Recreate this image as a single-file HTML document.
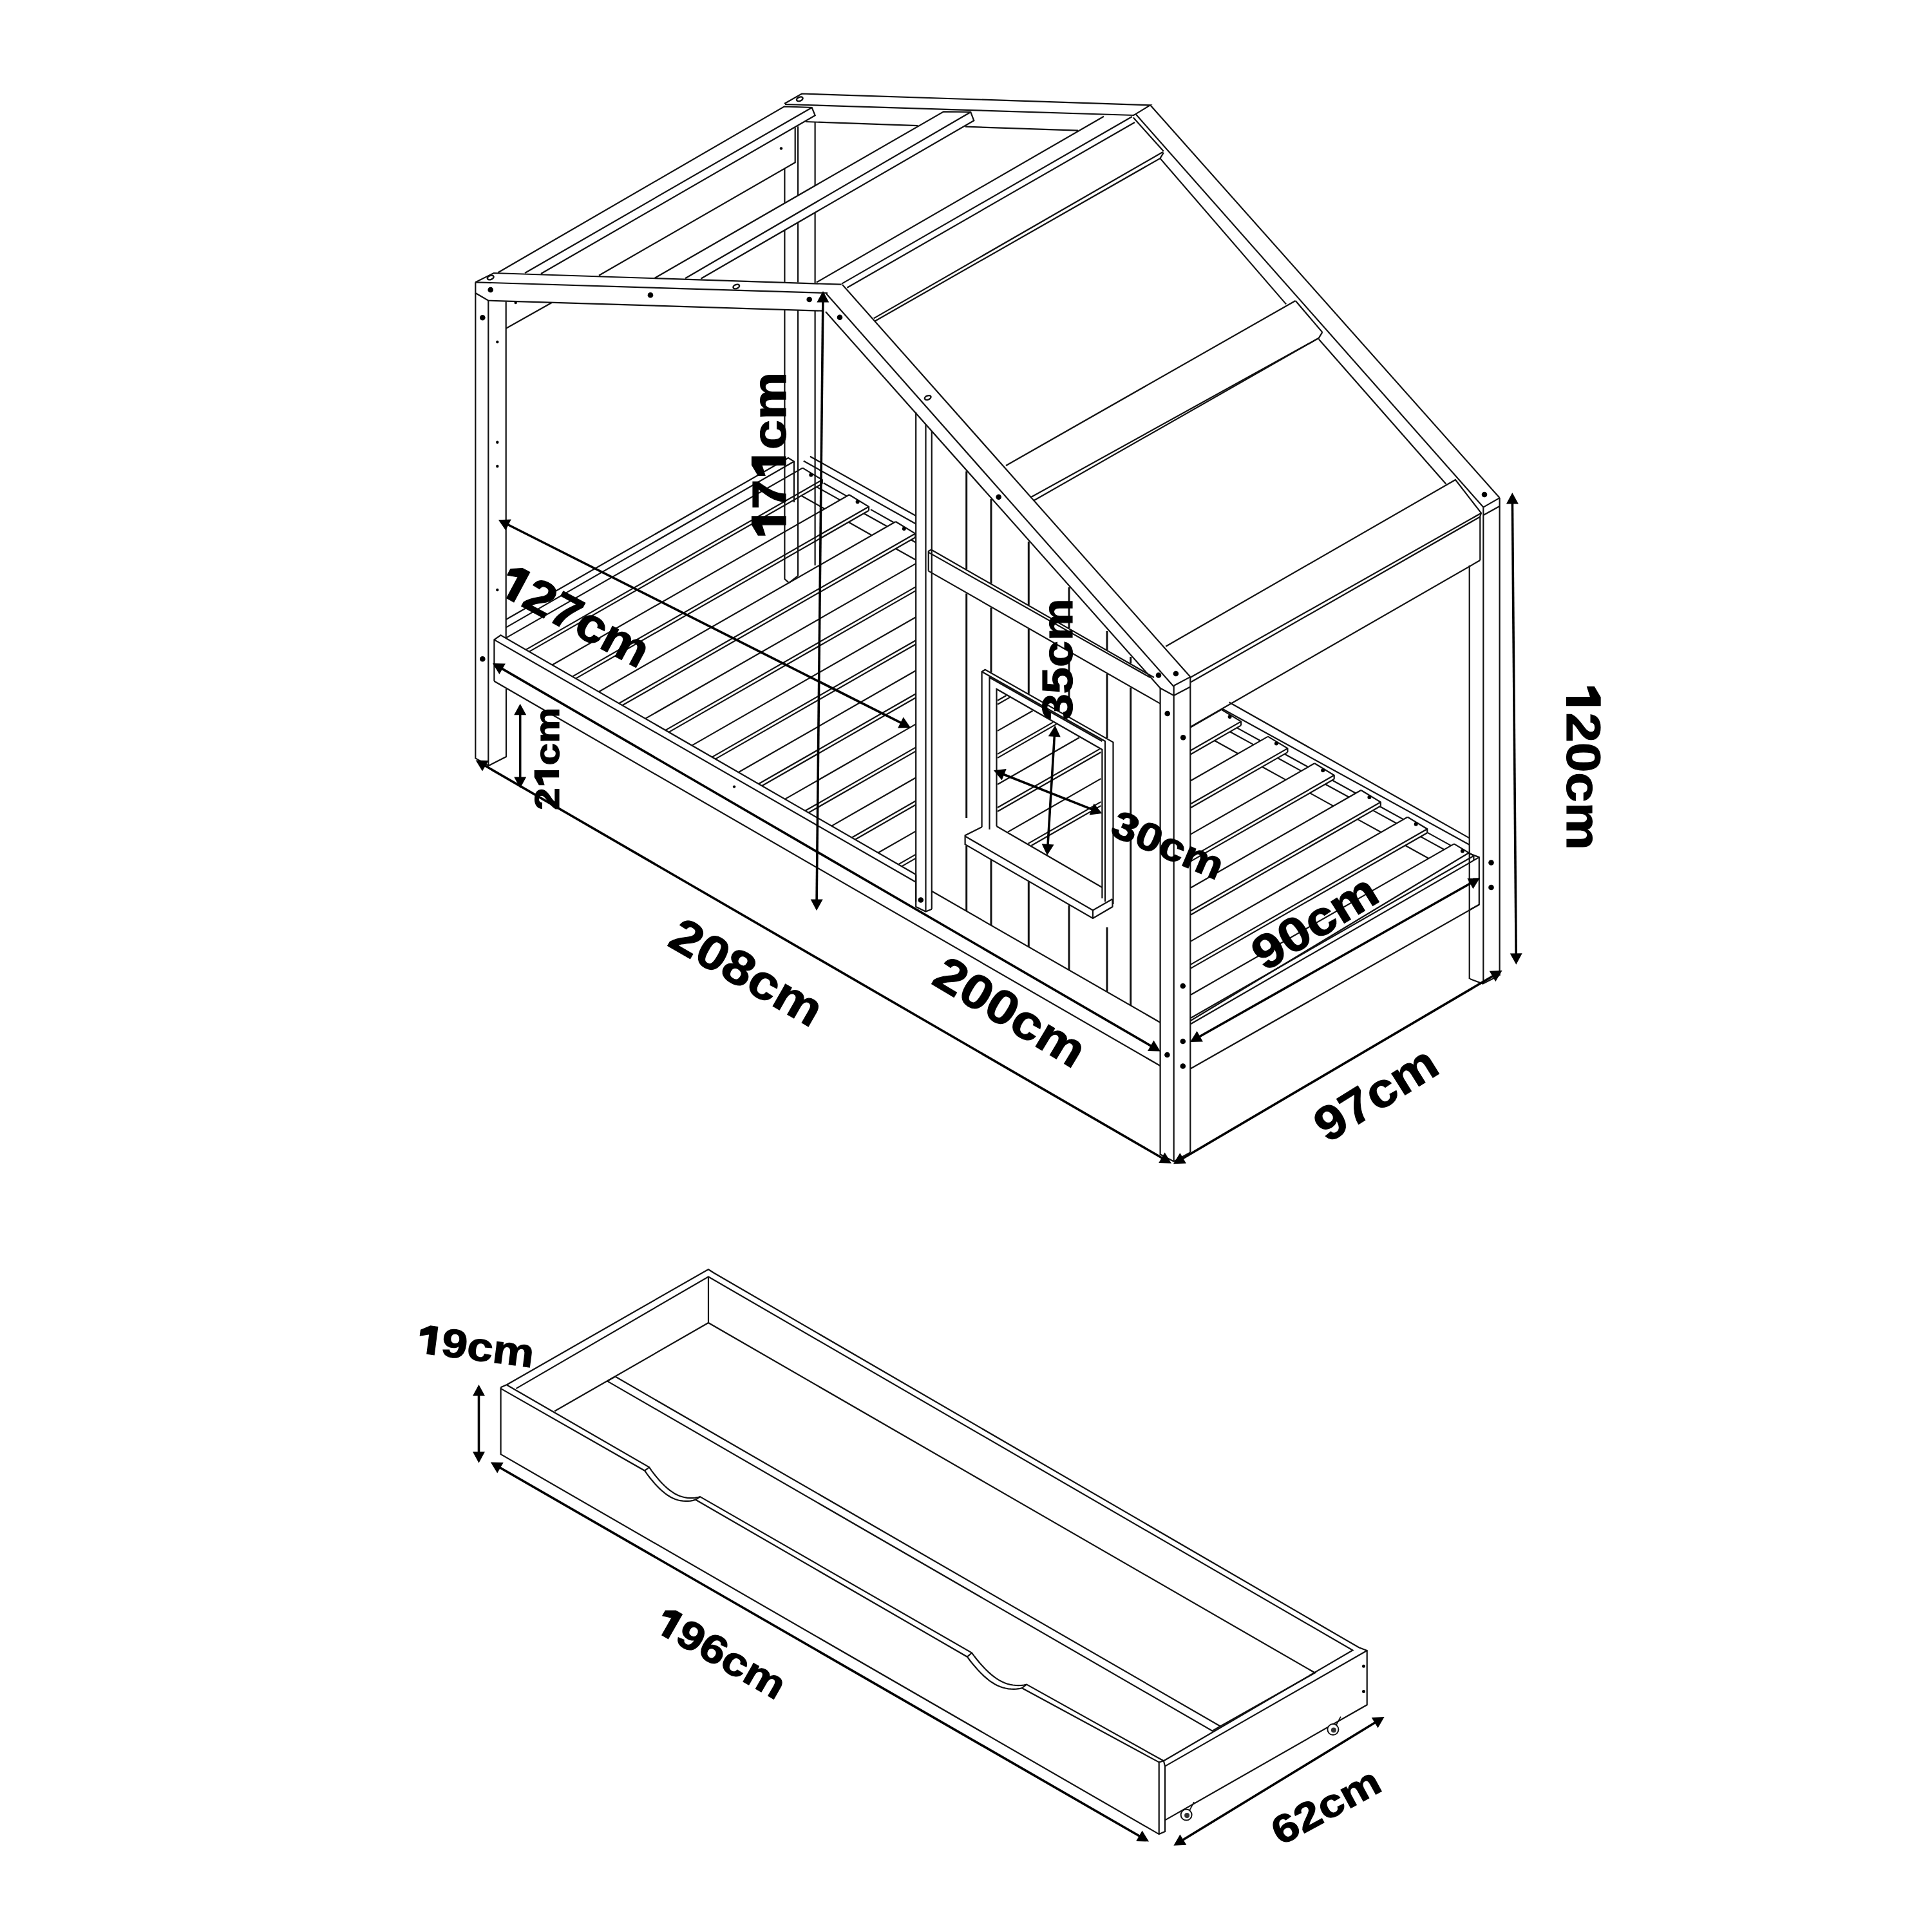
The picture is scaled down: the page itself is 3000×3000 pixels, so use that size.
<!DOCTYPE html>
<html><head><meta charset="utf-8"><style>
html,body{margin:0;padding:0;background:#fff;}
svg{display:block;}
text{font-family:"Liberation Sans",sans-serif;font-weight:bold;}
</style></head><body>
<svg width="3000" height="3000" viewBox="0 0 3000 3000" xmlns="http://www.w3.org/2000/svg">
<rect width="3000" height="3000" fill="#fff"/>
<g fill="none" stroke="#111" stroke-linejoin="miter" stroke-linecap="butt">
<polyline points="738.3,438.3 766.7,424.0 1306.7,441.7" stroke-width="2.2"/>
<polyline points="738.3,438.3 1285.0,455.0" stroke-width="2.2"/>
<polyline points="738.3,438.3 738.3,455.0 758.3,466.7 1276.7,482.7" stroke-width="2.2"/>
<polyline points="773.3,423.3 1218.0,165.3 1260.7,167.0 1265.7,179.3 840.0,425.0" stroke-width="2.2"/>
<polyline points="815.0,424.0 1260.7,167.0" stroke-width="2.2"/>
<polyline points="1234.7,198.3 1234.7,252.3 930.0,427.7" stroke-width="2.2"/>
<polyline points="785.7,510.0 856.7,470.0" stroke-width="2.2"/>
<polyline points="1218.0,161.0 1245.0,145.5 1786.0,163.3 1763.4,177.1 1760.0,179.0" stroke-width="2.2"/>
<polyline points="1219.0,162.0 1761.0,179.0" stroke-width="2.2"/>
<polyline points="1251.1,189.0 1425.0,195.2" stroke-width="2.2"/>
<polyline points="1499.0,196.7 1674.0,202.7" stroke-width="2.2"/>
<polyline points="1218.4,262.5 1218.4,315.5" stroke-width="2.2"/>
<polyline points="1218.4,358.0 1218.4,437.9" stroke-width="2.2"/>
<polyline points="1239.1,196.3 1239.1,303.6" stroke-width="2.2"/>
<polyline points="1239.1,346.2 1239.1,438.5" stroke-width="2.2"/>
<polyline points="1265.6,190.0 1265.6,288.4" stroke-width="2.2"/>
<polyline points="1265.6,331.0 1265.6,439.3" stroke-width="2.2"/>
<polyline points="1016.7,431.7 1465.3,173.3 1507.3,174.0 1512.3,187.3 1088.3,432.7" stroke-width="2.2"/>
<polyline points="1064.0,432.3 1507.3,174.0" stroke-width="2.2"/>
<polyline points="1267.7,438.5 1714.0,180.7" stroke-width="2.2"/>
<polyline points="1307.0,440.6 1758.0,181.0" stroke-width="2.2"/>
<polyline points="1315.3,446.8 1762.0,190.0" stroke-width="2.2"/>
<polyline points="1356.7,494.4 1805.7,236.0" stroke-width="2.2"/>
<polyline points="1358.8,498.5 1801.4,245.9 1806.9,236.9" stroke-width="2.2"/>
<polyline points="1759.8,182.5 1806.9,235.1" stroke-width="2.2"/>
<polyline points="1801.4,245.9 1997.1,472.4" stroke-width="2.2"/>
<polyline points="1562.0,723.0 2011.6,467.0" stroke-width="2.2"/>
<polyline points="1600.0,772.5 2047.8,524.9 2053.3,515.9" stroke-width="2.2"/>
<polyline points="2011.6,467.0 2053.3,515.9" stroke-width="2.2"/>
<polyline points="2047.8,526.7 2245.3,751.4" stroke-width="2.2"/>
<polyline points="1786.2,163.3 2328.6,773.1" stroke-width="2.2"/>
<polyline points="1763.4,177.1 2303.3,787.6" stroke-width="2.2"/>
<polyline points="2328.6,773.1 2303.3,787.6" stroke-width="2.2"/>
<polyline points="1308.0,442.0 1848.3,1051.1" stroke-width="2.2"/>
<polyline points="1283.0,456.0 1822.5,1066.0" stroke-width="2.2"/>
<polyline points="1282.0,484.0 1801.6,1068.5" stroke-width="2.2"/>
<polyline points="1801.6,1068.5 1822.7,1080.0 1848.3,1066.5" stroke-width="2.2"/>
<polyline points="1822.7,1064.8 1848.3,1051.1" stroke-width="2.2"/>
<polyline points="1801.6,1068.5 1801.6,1792.5 1822.7,1803.4 1848.3,1789.4" stroke-width="2.2"/>
<polyline points="1822.7,1064.8 1822.7,1803.4" stroke-width="2.2"/>
<polyline points="1848.3,1051.1 1848.3,1789.4" stroke-width="2.2"/>
<polyline points="1422.2,640.3 1422.2,1400.0" stroke-width="2.2"/>
<polyline points="1437.5,659.0 1437.5,1415.6" stroke-width="2.2"/>
<polyline points="1446.8,669.8 1446.8,1411.7" stroke-width="2.2"/>
<polyline points="1810.2,1003.8 2260.0,745.0 2300.0,796.7 2298.3,801.7 2298.3,870.0" stroke-width="2.2"/>
<polyline points="1848.3,1052.0 2300.0,796.7" stroke-width="2.2"/>
<polyline points="1849.5,1059.0 2298.3,802.5" stroke-width="2.2"/>
<polyline points="1849.0,1128.5 2298.3,870.0" stroke-width="2.2"/>
<polyline points="1605.7,777.0 2047.8,524.9" stroke-width="2.2"/>
<polyline points="2328.6,773.1 2328.6,1515.0" stroke-width="2.2"/>
<polyline points="2303.3,787.6 2303.3,1527.5" stroke-width="2.2"/>
<polyline points="2281.7,878.0 2281.7,1520.0" stroke-width="2.2"/>
<polyline points="2282.5,1520.0 2302.5,1527.5 2327.5,1515.0" stroke-width="2.2"/>
<polyline points="2303.3,800.0 2328.6,786.0" stroke-width="2.2"/>
<polyline points="738.3,455.0 738.3,1177.4 758.8,1189.0 786.0,1175.0 786.0,1069.5" stroke-width="2.2"/>
<polyline points="758.3,466.7 758.3,1189.0" stroke-width="2.2"/>
<polyline points="785.7,468.3 785.7,990.0" stroke-width="2.2"/>
<polyline points="767.4,1057.8 767.4,993.4 777.5,986.4 1422.2,1358.0" stroke-width="2.2"/>
<polyline points="767.4,993.4 1422.2,1369.7" stroke-width="2.2"/>
<polyline points="1446.8,1383.8 1801.6,1587.7" stroke-width="2.2"/>
<polyline points="767.4,1057.8 1801.6,1655.0" stroke-width="2.2"/>
<polyline points="1422.2,1358.0 1422.2,1408.0 1437.5,1415.6 1446.8,1411.7" stroke-width="2.2"/>
<polyline points="1441.7,886.6 1441.7,856.0 1446.0,853.5 1792.0,1052.0" stroke-width="2.2"/>
<polyline points="1441.7,857.6 1786.0,1052.0" stroke-width="2.2"/>
<polyline points="1441.7,886.6 1801.6,1092.6" stroke-width="2.2"/>
<polyline points="1524.6,1284.0 1524.6,1043.0 1529.7,1039.8 1728.5,1152.6 1728.5,1404.0" stroke-width="2.2"/>
<polyline points="1524.6,1043.0 1716.0,1151.0 1716.0,1400.0" stroke-width="2.2"/>
<polyline points="1536.5,1288.0 1536.5,1052.0 1711.4,1151.0" stroke-width="2.2"/>
<polyline points="1547.5,1283.0 1547.5,1070.0 1711.4,1164.0 1711.4,1395.0" stroke-width="2.2"/>
<polyline points="1547.5,1283.0 1711.4,1378.0" stroke-width="2.2"/>
<polyline points="1525.0,1284.0 1498.6,1297.2 1498.6,1311.2 1697.0,1426.0 1727.5,1408.0 1727.5,1396.0" stroke-width="2.2"/>
<polyline points="1498.6,1298.5 1697.0,1413.5 1727.5,1396.0" stroke-width="2.2"/>
<polyline points="1697.0,1413.5 1697.0,1426.0" stroke-width="2.2"/>
<polyline points="1257.9,708.7 1422.2,801.0" stroke-width="2.2"/>
<polyline points="1247.8,715.7 1422.2,813.5" stroke-width="2.2"/>
<polyline points="1908.6,1090.5 2281.7,1301.4" stroke-width="2.2"/>
<polyline points="1898.2,1100.8 2281.7,1311.7" stroke-width="2.2"/>
<polyline points="1849.0,1584.8 2280.0,1324.7 2296.8,1331.1 2296.8,1404.7 2281.7,1413.0" stroke-width="2.2"/>
<polyline points="1849.0,1590.0 2296.8,1331.1" stroke-width="2.2"/>
<polyline points="1849.0,1659.3 2296.8,1404.7" stroke-width="2.2"/>
<circle cx="761.7" cy="450.0" r="4.3" fill="#000" stroke="none"/>
<circle cx="1010.0" cy="458.3" r="4.3" fill="#000" stroke="none"/>
<circle cx="1256.7" cy="465.0" r="4.3" fill="#000" stroke="none"/>
<circle cx="749.3" cy="493.3" r="4.3" fill="#000" stroke="none"/>
<circle cx="1304.0" cy="492.8" r="4.3" fill="#000" stroke="none"/>
<circle cx="1550.7" cy="771.7" r="4.3" fill="#000" stroke="none"/>
<circle cx="1799.0" cy="1048.5" r="4.3" fill="#000" stroke="none"/>
<circle cx="1825.9" cy="1046.0" r="4.3" fill="#000" stroke="none"/>
<circle cx="1812.7" cy="1108.0" r="4.3" fill="#000" stroke="none"/>
<circle cx="1837.2" cy="1145.3" r="4.3" fill="#000" stroke="none"/>
<circle cx="2305.0" cy="768.0" r="4.3" fill="#000" stroke="none"/>
<circle cx="1836.8" cy="1531.0" r="4.3" fill="#000" stroke="none"/>
<circle cx="1836.8" cy="1617.0" r="4.3" fill="#000" stroke="none"/>
<circle cx="1812.4" cy="1638.0" r="4.3" fill="#000" stroke="none"/>
<circle cx="1836.8" cy="1655.5" r="4.3" fill="#000" stroke="none"/>
<circle cx="2315.5" cy="1339.5" r="4.3" fill="#000" stroke="none"/>
<circle cx="2315.5" cy="1378.0" r="4.3" fill="#000" stroke="none"/>
<circle cx="749.3" cy="1023.3" r="4.3" fill="#000" stroke="none"/>
<circle cx="1429.8" cy="1397.5" r="4.3" fill="#000" stroke="none"/>
<circle cx="800.7" cy="470.0" r="2.2" fill="#000" stroke="none"/>
<circle cx="772.3" cy="531.0" r="2.2" fill="#000" stroke="none"/>
<circle cx="772.3" cy="686.7" r="2.2" fill="#000" stroke="none"/>
<circle cx="1213.0" cy="230.5" r="2.2" fill="#000" stroke="none"/>
<circle cx="772.3" cy="724.0" r="2.2" fill="#000" stroke="none"/>
<circle cx="772.3" cy="916.0" r="2.2" fill="#000" stroke="none"/>
<circle cx="1140.1" cy="1221.6" r="2.2" fill="#000" stroke="none"/>
<ellipse cx="1143.3" cy="445.0" rx="5" ry="3" stroke-width="2.5" transform="rotate(-20 1143.3 445.0)"/>
<ellipse cx="761.7" cy="431.0" rx="5" ry="3" stroke-width="2.5" transform="rotate(-20 761.7 431.0)"/>
<ellipse cx="1241.8" cy="153.8" rx="5" ry="3" stroke-width="2.5" transform="rotate(-20 1241.8 153.8)"/>
<ellipse cx="1440.7" cy="617.5" rx="5" ry="3" stroke-width="2.5" transform="rotate(-20 1440.7 617.5)"/>
<polyline points="785.7,962.0 1224.0,711.0 1233.0,716.5 1233.0,780.0" stroke-width="2.2"/>
<polyline points="785.7,974.4 1233.0,716.5" stroke-width="2.2"/>
<polyline points="1246.3,726.6 1276.8,745.1 1276.8,751.1" stroke-width="2.2"/>
<circle cx="1259.3" cy="737.6" r="3" fill="#000" stroke="none"/>
<polyline points="1318.6,768.3 1349.1,786.8 1349.1,792.8" stroke-width="2.2"/>
<circle cx="1331.6" cy="779.3" r="3" fill="#000" stroke="none"/>
<polyline points="1390.8,810.0 1421.3,828.5 1421.3,834.5" stroke-width="2.2"/>
<circle cx="1403.8" cy="821.0" r="3" fill="#000" stroke="none"/>
<polyline points="1896.6,1101.9 1927.1,1120.4 1927.1,1126.4" stroke-width="2.2"/>
<circle cx="1909.6" cy="1112.9" r="3" fill="#000" stroke="none"/>
<polyline points="1968.9,1143.6 1999.4,1162.1 1999.4,1168.1" stroke-width="2.2"/>
<circle cx="1981.9" cy="1154.6" r="3" fill="#000" stroke="none"/>
<polyline points="2041.2,1185.3 2071.7,1203.8 2071.7,1209.8" stroke-width="2.2"/>
<circle cx="2054.2" cy="1196.3" r="3" fill="#000" stroke="none"/>
<polyline points="2113.4,1227.0 2143.9,1245.5 2143.9,1251.5" stroke-width="2.2"/>
<circle cx="2126.4" cy="1238.0" r="3" fill="#000" stroke="none"/>
<polyline points="2185.7,1268.7 2216.2,1287.2 2216.2,1293.2" stroke-width="2.2"/>
<circle cx="2198.7" cy="1279.7" r="3" fill="#000" stroke="none"/>
<polyline points="2257.9,1310.4 2288.4,1328.9 2288.4,1334.9" stroke-width="2.2"/>
<circle cx="2270.9" cy="1321.4" r="3" fill="#000" stroke="none"/>
<polyline points="786.0,990.4 1246.3,726.6" stroke-width="2.2"/>
<polyline points="816.5,1008.9 1276.8,745.1" stroke-width="2.2"/>
<polyline points="821.7,1011.9 1276.8,751.1" stroke-width="2.2"/>
<polyline points="857.5,1032.5 1318.6,768.3" stroke-width="2.2"/>
<polyline points="888.7,1050.6 1349.1,786.8" stroke-width="2.2"/>
<polyline points="894.0,1053.6 1349.1,792.8" stroke-width="2.2"/>
<polyline points="929.7,1074.2 1390.8,810.0" stroke-width="2.2"/>
<polyline points="961.0,1092.2 1421.3,828.5" stroke-width="2.2"/>
<polyline points="966.3,1095.3 1421.3,834.5" stroke-width="2.2"/>
<polyline points="1002.0,1115.9 1422.2,875.1" stroke-width="2.2"/>
<polyline points="1033.3,1133.9 1422.2,911.1" stroke-width="2.2"/>
<polyline points="1038.5,1136.9 1422.2,917.1" stroke-width="2.2"/>
<polyline points="1074.3,1157.6 1422.2,958.2" stroke-width="2.2"/>
<polyline points="1105.6,1175.6 1422.2,994.2" stroke-width="2.2"/>
<polyline points="1110.8,1178.6 1422.2,1000.2" stroke-width="2.2"/>
<polyline points="1146.6,1199.3 1422.2,1041.3" stroke-width="2.2"/>
<polyline points="1177.9,1217.3 1422.2,1077.3" stroke-width="2.2"/>
<polyline points="1183.1,1220.3 1422.2,1083.3" stroke-width="2.2"/>
<polyline points="1218.9,1240.9 1422.2,1124.4" stroke-width="2.2"/>
<polyline points="1250.2,1259.0 1422.2,1160.4" stroke-width="2.2"/>
<polyline points="1255.4,1262.0 1422.2,1166.4" stroke-width="2.2"/>
<polyline points="1291.2,1282.6 1422.2,1207.5" stroke-width="2.2"/>
<polyline points="1322.5,1300.7 1422.2,1243.5" stroke-width="2.2"/>
<polyline points="1327.7,1303.7 1422.2,1249.5" stroke-width="2.2"/>
<polyline points="1363.4,1324.3 1422.2,1290.6" stroke-width="2.2"/>
<polyline points="1394.7,1342.4 1422.2,1326.6" stroke-width="2.2"/>
<polyline points="1400.0,1345.4 1422.2,1332.6" stroke-width="2.2"/>
<polyline points="1849.0,1129.2 1896.6,1101.9" stroke-width="2.2"/>
<polyline points="1849.0,1165.2 1927.1,1120.4" stroke-width="2.2"/>
<polyline points="1849.0,1171.2 1927.1,1126.4" stroke-width="2.2"/>
<polyline points="1849.0,1212.3 1968.9,1143.6" stroke-width="2.2"/>
<polyline points="1849.0,1248.3 1999.4,1162.1" stroke-width="2.2"/>
<polyline points="1849.0,1254.3 1999.4,1168.1" stroke-width="2.2"/>
<polyline points="1849.0,1295.4 2041.2,1185.3" stroke-width="2.2"/>
<polyline points="1849.0,1331.4 2071.7,1203.8" stroke-width="2.2"/>
<polyline points="1849.0,1337.4 2071.7,1209.8" stroke-width="2.2"/>
<polyline points="1849.0,1378.5 2113.4,1227.0" stroke-width="2.2"/>
<polyline points="1849.0,1414.5 2143.9,1245.5" stroke-width="2.2"/>
<polyline points="1849.0,1420.5 2143.9,1251.5" stroke-width="2.2"/>
<polyline points="1849.0,1461.6 2185.7,1268.7" stroke-width="2.2"/>
<polyline points="1849.0,1497.6 2216.2,1287.2" stroke-width="2.2"/>
<polyline points="1849.0,1503.6 2216.2,1293.2" stroke-width="2.2"/>
<polyline points="1849.0,1544.7 2257.9,1310.4" stroke-width="2.2"/>
<polyline points="1849.0,1580.7 2288.4,1328.9" stroke-width="2.2"/>
<polyline points="1500.7,732.0 1500.7,883.9" stroke-width="3"/>
<polyline points="1500.7,921.4 1500.7,1270.1" stroke-width="3"/>
<polyline points="1500.7,1313.4 1500.7,1415.0" stroke-width="3"/>
<polyline points="1539.0,775.0 1539.0,905.8" stroke-width="3"/>
<polyline points="1539.0,943.4 1539.0,1044.1" stroke-width="3"/>
<polyline points="1539.0,1335.6 1539.0,1437.1" stroke-width="3"/>
<polyline points="1597.3,841.0 1597.3,939.3" stroke-width="3"/>
<polyline points="1597.3,976.8 1597.3,1077.2" stroke-width="3"/>
<polyline points="1597.3,1369.4 1597.3,1470.6" stroke-width="3"/>
<polyline points="1660.0,912.0 1660.0,975.2" stroke-width="3"/>
<polyline points="1660.0,1012.8 1660.0,1112.7" stroke-width="3"/>
<polyline points="1660.0,1405.8 1660.0,1506.6" stroke-width="3"/>
<polyline points="1719.0,980.0 1719.0,1009.1" stroke-width="3"/>
<polyline points="1719.0,1046.6 1719.0,1146.2" stroke-width="3"/>
<polyline points="1719.0,1440.0 1719.0,1540.6" stroke-width="3"/>
<polyline points="1755.7,1020.0 1755.7,1030.1" stroke-width="3"/>
<polyline points="1755.7,1067.6 1755.7,1561.7" stroke-width="3"/>
<polyline points="1218.4,482.0 1218.4,899.0 1225.0,905.0 1239.1,894.0" stroke-width="2.2"/>
<polyline points="1239.1,482.0 1239.1,894.0" stroke-width="2.2"/>
<polyline points="1265.6,482.0 1265.6,878.0" stroke-width="2.2"/>
<polyline points="1549.0,1087.8 1562.5,1080.0" stroke-width="2.2"/>
<polyline points="1549.0,1093.8 1568.0,1082.9" stroke-width="2.2"/>
<polyline points="1549.0,1134.9 1603.5,1103.7" stroke-width="2.2"/>
<polyline points="1549.0,1170.9 1635.0,1121.6" stroke-width="2.2"/>
<polyline points="1549.0,1176.9 1640.5,1124.4" stroke-width="2.2"/>
<polyline points="1549.0,1218.0 1676.0,1145.2" stroke-width="2.2"/>
<polyline points="1549.0,1254.0 1707.5,1163.1" stroke-width="2.2"/>
<polyline points="1549.0,1260.0 1709.5,1168.0" stroke-width="2.2"/>
<polyline points="1565.0,1291.9 1709.5,1209.1" stroke-width="2.2"/>
<polyline points="1596.5,1309.9 1709.5,1245.1" stroke-width="2.2"/>
<polyline points="1601.5,1313.0 1709.5,1251.1" stroke-width="2.2"/>
<polyline points="1278.7,750.0 1314.9,770.4" stroke-width="2.2"/>
<polyline points="1268.1,756.1 1304.4,776.4" stroke-width="2.2"/>
<polyline points="1244.3,769.7 1280.6,790.1" stroke-width="2.2"/>
<polyline points="1352.0,791.1 1388.2,811.5" stroke-width="2.2"/>
<polyline points="1341.4,797.2 1377.7,817.5" stroke-width="2.2"/>
<polyline points="1317.6,810.8 1353.8,831.2" stroke-width="2.2"/>
<polyline points="1414.7,838.3 1422.2,842.5" stroke-width="2.2"/>
<polyline points="1390.9,852.0 1422.2,869.5" stroke-width="2.2"/>
<polyline points="1920.6,1130.1 1957.2,1150.3" stroke-width="2.2"/>
<polyline points="1909.9,1136.3 1946.6,1156.4" stroke-width="2.2"/>
<polyline points="1885.9,1150.0 1922.5,1170.2" stroke-width="2.2"/>
<polyline points="1994.6,1170.8 2031.3,1191.0" stroke-width="2.2"/>
<polyline points="1983.9,1177.0 2020.6,1197.1" stroke-width="2.2"/>
<polyline points="1959.9,1190.7 1996.5,1210.9" stroke-width="2.2"/>
<polyline points="2068.6,1211.5 2105.3,1231.7" stroke-width="2.2"/>
<polyline points="2057.9,1217.7 2094.6,1237.8" stroke-width="2.2"/>
<polyline points="2033.9,1231.4 2070.5,1251.6" stroke-width="2.2"/>
<polyline points="2142.6,1252.2 2179.3,1272.4" stroke-width="2.2"/>
<polyline points="2131.9,1258.4 2168.6,1278.5" stroke-width="2.2"/>
<polyline points="2107.9,1272.1 2144.5,1292.3" stroke-width="2.2"/>
<polyline points="2216.6,1292.9 2253.3,1313.1" stroke-width="2.2"/>
<polyline points="2205.9,1299.1 2242.6,1319.2" stroke-width="2.2"/>
<polyline points="2181.9,1312.8 2218.5,1333.0" stroke-width="2.2"/>
<polyline points="777.6,2156.1 1001.1,2283.7 1005.1,2289.3 1009.0,2294.5 1013.0,2299.3 1016.9,2303.9 1020.9,2308.2 1024.8,2312.1 1028.8,2315.7 1032.7,2318.9 1036.7,2321.8 1040.6,2324.3 1044.5,2326.3 1048.5,2328.0 1052.5,2329.2 1056.4,2330.2 1060.3,2330.7 1064.3,2330.9 1068.2,2330.9 1072.2,2330.6 1076.2,2329.9 1080.1,2328.8 1501.9,2572.7 1506.2,2578.5 1510.4,2583.8 1514.7,2588.8 1518.9,2593.6 1523.2,2598.0 1527.4,2602.1 1531.7,2605.9 1535.9,2609.3 1540.2,2612.3 1544.4,2615.0 1548.7,2617.2 1552.9,2619.0 1557.2,2620.5 1561.4,2621.5 1565.7,2622.3 1569.9,2622.7 1574.2,2622.8 1578.4,2622.6 1582.7,2622.2 1586.9,2621.2 1799.7,2736.4" stroke-width="2.2"/>
<polyline points="1001.1,2283.7 1008.1,2278.4" stroke-width="2.2"/>
<polyline points="1080.1,2328.8 1087.1,2324.1" stroke-width="2.2"/>
<polyline points="1501.9,2572.7 1509.1,2566.5" stroke-width="2.2"/>
<polyline points="1586.9,2621.2 1594.1,2615.6" stroke-width="2.2"/>
<polyline points="787.3,2150.8 1008.1,2278.4 1012.1,2284.1 1016.0,2289.2 1020.0,2294.1 1023.9,2298.7 1027.8,2303.0 1031.8,2307.0 1035.8,2310.6 1039.7,2313.9 1043.7,2316.7 1047.6,2319.2 1051.5,2321.3 1055.5,2323.0 1059.5,2324.3 1063.4,2325.2 1067.3,2325.8 1071.3,2326.1 1075.2,2326.1 1079.2,2325.8 1083.2,2325.2 1087.1,2324.1 1509.1,2566.5 1513.3,2572.3 1517.6,2577.7 1521.8,2582.7 1526.1,2587.5 1530.3,2592.0 1534.6,2596.1 1538.8,2599.9 1543.1,2603.4 1547.3,2606.4 1551.6,2609.1 1555.8,2611.3 1560.1,2613.2 1564.3,2614.7 1568.6,2615.8 1572.8,2616.5 1577.1,2617.0 1581.3,2617.1 1585.6,2617.0 1589.8,2616.6 1594.1,2615.6 1806.9,2734.3" stroke-width="2.2"/>
<polyline points="777.6,2154.3 777.6,2258.2 1799.7,2848.1 1809.0,2844.0 1809.0,2742.6 1806.9,2734.3 1799.7,2736.4 1799.7,2848.1" stroke-width="2.2"/>
<polyline points="777.6,2154.3 787.3,2149.9 1100.0,1971.0 1107.5,1976.0 2110.2,2558.3 2122.7,2563.0 2122.7,2647.3 1809.0,2826.4" stroke-width="2.2"/>
<polyline points="801.4,2156.1 1100.0,1982.5 2100.5,2562.5 1806.9,2734.3" stroke-width="2.2"/>
<polyline points="1809.0,2742.6 2122.7,2563.0" stroke-width="2.2"/>
<polyline points="1100.0,1982.5 1100.0,2054.0 2041.9,2597.6 1894.9,2680.5" stroke-width="2.2"/>
<polyline points="1100.0,2054.0 861.2,2191.3" stroke-width="2.2"/>
<polyline points="943.0,2144.6 955.4,2137.6 1894.9,2680.5 1882.5,2687.7 943.0,2144.6" stroke-width="2.2"/>
<circle cx="2117.5" cy="2587.3" r="2.5" fill="#000" stroke="none"/>
<circle cx="2117.5" cy="2626.6" r="2.5" fill="#000" stroke="none"/>
<circle cx="1842.1" cy="2818.1" r="8.5" fill="#fff" stroke="#111" stroke-width="2"/><circle cx="1843.1" cy="2819.1" r="4" fill="#333" stroke="none"/><path d="M1847.1 2811.1 L1854.1 2798.1" stroke="#111" stroke-width="1.8" fill="none"/>
<circle cx="2069.9" cy="2685.6" r="8.5" fill="#fff" stroke="#111" stroke-width="2"/><circle cx="2070.9" cy="2686.6" r="4" fill="#333" stroke="none"/><path d="M2074.9 2678.6 L2081.9 2665.6" stroke="#111" stroke-width="1.8" fill="none"/>
</g>
<line x1="1277.9" y1="466.0" x2="1268.1" y2="1400.0" stroke="#000" stroke-width="3.6"/>
<polygon points="1278.0,452.0 1268.3,469.4 1287.3,469.6" fill="#000"/>
<polygon points="1268.0,1414.0 1258.7,1396.4 1277.7,1396.6" fill="#000"/>
<line x1="786.4" y1="813.5" x2="1401.5" y2="1123.7" stroke="#000" stroke-width="3.6"/>
<polygon points="773.9,807.2 785.2,823.6 793.8,806.6" fill="#000"/>
<polygon points="1414.0,1130.0 1394.1,1130.6 1402.7,1113.6" fill="#000"/>
<line x1="807.7" y1="1106.8" x2="807.7" y2="1210.0" stroke="#000" stroke-width="3.6"/>
<polygon points="807.7,1092.8 798.2,1110.3 817.2,1110.3" fill="#000"/>
<polygon points="807.7,1224.0 798.2,1206.5 817.2,1206.5" fill="#000"/>
<line x1="1637.5" y1="1140.4" x2="1626.9" y2="1314.3" stroke="#000" stroke-width="3.6"/>
<polygon points="1638.4,1126.4 1627.8,1143.3 1646.8,1144.4" fill="#000"/>
<polygon points="1626.0,1328.3 1617.6,1310.3 1636.6,1311.4" fill="#000"/>
<line x1="1555.9" y1="1201.5" x2="1698.4" y2="1257.8" stroke="#000" stroke-width="3.6"/>
<polygon points="1542.9,1196.3 1555.7,1211.6 1562.7,1193.9" fill="#000"/>
<polygon points="1711.4,1263.0 1691.6,1265.4 1698.6,1247.7" fill="#000"/>
<line x1="750.7" y1="1187.5" x2="1806.9" y2="1799.5" stroke="#000" stroke-width="3.6"/>
<polygon points="738.6,1180.5 749.0,1197.5 758.5,1181.1" fill="#000"/>
<polygon points="1819.0,1806.5 1799.1,1805.9 1808.6,1789.5" fill="#000"/>
<line x1="777.1" y1="1036.9" x2="1789.8" y2="1625.6" stroke="#000" stroke-width="3.6"/>
<polygon points="765.0,1029.9 775.4,1046.9 784.9,1030.5" fill="#000"/>
<polygon points="1801.9,1632.6 1782.0,1632.0 1791.5,1615.6" fill="#000"/>
<line x1="1860.2" y1="1611.0" x2="2285.8" y2="1370.2" stroke="#000" stroke-width="3.6"/>
<polygon points="1848.0,1617.9 1867.9,1617.6 1858.6,1601.0" fill="#000"/>
<polygon points="2298.0,1363.3 2287.4,1380.2 2278.1,1363.6" fill="#000"/>
<line x1="1834.1" y1="1800.2" x2="2320.5" y2="1514.2" stroke="#000" stroke-width="3.6"/>
<polygon points="1822.0,1807.3 1841.9,1806.6 1832.3,1790.2" fill="#000"/>
<polygon points="2332.6,1507.1 2322.3,1524.2 2312.7,1507.8" fill="#000"/>
<line x1="2348.4" y1="779.0" x2="2354.2" y2="1483.8" stroke="#000" stroke-width="3.6"/>
<polygon points="2348.3,765.0 2338.9,782.6 2357.9,782.4" fill="#000"/>
<polygon points="2354.3,1497.8 2344.7,1480.4 2363.7,1480.2" fill="#000"/>
<g transform="translate(1193.8 707.5) rotate(-90.00) scale(1.120 1)"><polygon points="-84.30,-26.26 -84.30,26.26 -95.84,26.26 -95.84,-10.99 -110.37,-5.77 -110.37,-16.58 -95.84,-26.26" fill="#000" stroke="#000" stroke-width="1.20" stroke-linejoin="miter"/><text x="-74.54" y="26.26" font-size="74.5" fill="#000" stroke="#000" stroke-width="1.20">7</text><polygon points="-1.45,-26.26 -1.45,26.26 -13.00,26.26 -13.00,-10.99 -27.53,-5.77 -27.53,-16.58 -13.00,-26.26" fill="#000" stroke="#000" stroke-width="1.20" stroke-linejoin="miter"/><text x="8.31" y="26.26" font-size="74.5" fill="#000" stroke="#000" stroke-width="1.20">c</text><text x="49.73" y="26.26" font-size="74.5" fill="#000" stroke="#000" stroke-width="1.20">m</text></g>
<g transform="translate(892.0 955.5) rotate(28.20) scale(1.100 1)"><polygon points="-84.30,-26.26 -84.30,26.26 -95.84,26.26 -95.84,-10.99 -110.37,-5.77 -110.37,-16.58 -95.84,-26.26" fill="#000" stroke="#000" stroke-width="1.20" stroke-linejoin="miter"/><text x="-74.54" y="26.26" font-size="74.5" fill="#000" stroke="#000" stroke-width="1.20">2</text><text x="-33.12" y="26.26" font-size="74.5" fill="#000" stroke="#000" stroke-width="1.20">7</text><text x="8.31" y="26.26" font-size="74.5" fill="#000" stroke="#000" stroke-width="1.20">c</text><text x="49.73" y="26.26" font-size="74.5" fill="#000" stroke="#000" stroke-width="1.20">m</text></g>
<g transform="translate(848.9 1178.2) rotate(-90.00) scale(1.180 1)"><text x="-67.63" y="18.65" font-size="52.9" fill="#000" stroke="#000" stroke-width="1.20">2</text><polygon points="-15.74,-18.65 -15.74,18.65 -23.94,18.65 -23.94,-7.80 -34.25,-4.10 -34.25,-11.77 -23.94,-18.65" fill="#000" stroke="#000" stroke-width="1.20" stroke-linejoin="miter"/><text x="-8.81" y="18.65" font-size="52.9" fill="#000" stroke="#000" stroke-width="1.20">c</text><text x="20.60" y="18.65" font-size="52.9" fill="#000" stroke="#000" stroke-width="1.20">m</text></g>
<g transform="translate(1641.3 1023.8) rotate(-90.00) scale(1.120 1)"><text x="-84.38" y="23.26" font-size="66.0" fill="#000" stroke="#000" stroke-width="1.20">3</text><text x="-47.69" y="23.26" font-size="66.0" fill="#000" stroke="#000" stroke-width="1.20">5</text><text x="-10.99" y="23.26" font-size="66.0" fill="#000" stroke="#000" stroke-width="1.20">c</text><text x="25.71" y="23.26" font-size="66.0" fill="#000" stroke="#000" stroke-width="1.20">m</text></g>
<g transform="translate(1814.0 1311.5) rotate(23.00) scale(1.170 1)"><text x="-77.99" y="21.50" font-size="61.0" fill="#000" stroke="#000" stroke-width="1.20">3</text><text x="-44.07" y="21.50" font-size="61.0" fill="#000" stroke="#000" stroke-width="1.20">0</text><text x="-10.16" y="21.50" font-size="61.0" fill="#000" stroke="#000" stroke-width="1.20">c</text><text x="23.76" y="21.50" font-size="61.0" fill="#000" stroke="#000" stroke-width="1.20">m</text></g>
<g transform="translate(1160.0 1509.1) rotate(29.80) scale(1.120 1)"><text x="-115.96" y="26.26" font-size="74.5" fill="#000" stroke="#000" stroke-width="1.20">2</text><text x="-74.54" y="26.26" font-size="74.5" fill="#000" stroke="#000" stroke-width="1.20">0</text><text x="-33.12" y="26.26" font-size="74.5" fill="#000" stroke="#000" stroke-width="1.20">8</text><text x="8.31" y="26.26" font-size="74.5" fill="#000" stroke="#000" stroke-width="1.20">c</text><text x="49.73" y="26.26" font-size="74.5" fill="#000" stroke="#000" stroke-width="1.20">m</text></g>
<g transform="translate(1569.0 1570.7) rotate(31.00) scale(1.120 1)"><text x="-115.96" y="26.26" font-size="74.5" fill="#000" stroke="#000" stroke-width="1.20">2</text><text x="-74.54" y="26.26" font-size="74.5" fill="#000" stroke="#000" stroke-width="1.20">0</text><text x="-33.12" y="26.26" font-size="74.5" fill="#000" stroke="#000" stroke-width="1.20">0</text><text x="8.31" y="26.26" font-size="74.5" fill="#000" stroke="#000" stroke-width="1.20">c</text><text x="49.73" y="26.26" font-size="74.5" fill="#000" stroke="#000" stroke-width="1.20">m</text></g>
<g transform="translate(2041.0 1431.0) rotate(-31.50) scale(1.120 1)"><text x="-95.25" y="26.26" font-size="74.5" fill="#000" stroke="#000" stroke-width="1.20">9</text><text x="-53.83" y="26.26" font-size="74.5" fill="#000" stroke="#000" stroke-width="1.20">0</text><text x="-12.40" y="26.26" font-size="74.5" fill="#000" stroke="#000" stroke-width="1.20">c</text><text x="29.02" y="26.26" font-size="74.5" fill="#000" stroke="#000" stroke-width="1.20">m</text></g>
<g transform="translate(2136.0 1698.0) rotate(-32.00) scale(1.100 1)"><text x="-95.25" y="26.26" font-size="74.5" fill="#000" stroke="#000" stroke-width="1.20">9</text><text x="-53.83" y="26.26" font-size="74.5" fill="#000" stroke="#000" stroke-width="1.20">7</text><text x="-12.40" y="26.26" font-size="74.5" fill="#000" stroke="#000" stroke-width="1.20">c</text><text x="29.02" y="26.26" font-size="74.5" fill="#000" stroke="#000" stroke-width="1.20">m</text></g>
<g transform="translate(2458.8 1190.0) rotate(90.00) scale(1.120 1)"><polygon points="-84.30,-26.26 -84.30,26.26 -95.84,26.26 -95.84,-10.99 -110.37,-5.77 -110.37,-16.58 -95.84,-26.26" fill="#000" stroke="#000" stroke-width="1.20" stroke-linejoin="miter"/><text x="-74.54" y="26.26" font-size="74.5" fill="#000" stroke="#000" stroke-width="1.20">2</text><text x="-33.12" y="26.26" font-size="74.5" fill="#000" stroke="#000" stroke-width="1.20">0</text><text x="8.31" y="26.26" font-size="74.5" fill="#000" stroke="#000" stroke-width="1.20">c</text><text x="49.73" y="26.26" font-size="74.5" fill="#000" stroke="#000" stroke-width="1.20">m</text></g>
<line x1="743.5" y1="2163.9" x2="743.5" y2="2257.7" stroke="#000" stroke-width="3.6"/>
<polygon points="743.5,2149.9 734.0,2167.4 753.0,2167.4" fill="#000"/>
<polygon points="743.5,2271.7 734.0,2254.2 753.0,2254.2" fill="#000"/>
<line x1="773.9" y1="2277.5" x2="1771.9" y2="2852.5" stroke="#000" stroke-width="3.6"/>
<polygon points="761.8,2270.5 772.2,2287.5 781.7,2271.0" fill="#000"/>
<polygon points="1784.0,2859.5 1764.1,2859.0 1773.6,2842.5" fill="#000"/>
<line x1="1834.3" y1="2858.5" x2="2137.7" y2="2673.3" stroke="#000" stroke-width="3.6"/>
<polygon points="1822.4,2865.8 1842.3,2864.8 1832.4,2848.6" fill="#000"/>
<polygon points="2149.6,2666.0 2139.6,2683.2 2129.7,2667.0" fill="#000"/>
<g transform="translate(738.0 2090.0) rotate(7.40) scale(1.165 1)"><polygon points="-52.92,-21.86 -52.92,21.86 -62.53,21.86 -62.53,-9.14 -74.62,-4.80 -74.62,-13.79 -62.53,-21.86" fill="#000" stroke="#000" stroke-width="1.20" stroke-linejoin="miter"/><text x="-44.80" y="21.86" font-size="62.0" fill="#000" stroke="#000" stroke-width="1.20">9</text><text x="-10.32" y="21.86" font-size="62.0" fill="#000" stroke="#000" stroke-width="1.20">c</text><text x="24.15" y="21.86" font-size="62.0" fill="#000" stroke="#000" stroke-width="1.20">m</text></g>
<g transform="translate(1119.0 2566.0) rotate(29.80) scale(1.160 1)"><polygon points="-70.15,-21.86 -70.15,21.86 -79.76,21.86 -79.76,-9.14 -91.85,-4.80 -91.85,-13.79 -79.76,-21.86" fill="#000" stroke="#000" stroke-width="1.20" stroke-linejoin="miter"/><text x="-62.03" y="21.86" font-size="62.0" fill="#000" stroke="#000" stroke-width="1.20">9</text><text x="-27.56" y="21.86" font-size="62.0" fill="#000" stroke="#000" stroke-width="1.20">6</text><text x="6.91" y="21.86" font-size="62.0" fill="#000" stroke="#000" stroke-width="1.20">c</text><text x="41.38" y="21.86" font-size="62.0" fill="#000" stroke="#000" stroke-width="1.20">m</text></g>
<g transform="translate(2058.5 2804.0) rotate(-28.50) scale(1.170 1)"><text x="-77.99" y="21.50" font-size="61.0" fill="#000" stroke="#000" stroke-width="1.20">6</text><text x="-44.07" y="21.50" font-size="61.0" fill="#000" stroke="#000" stroke-width="1.20">2</text><text x="-10.16" y="21.50" font-size="61.0" fill="#000" stroke="#000" stroke-width="1.20">c</text><text x="23.76" y="21.50" font-size="61.0" fill="#000" stroke="#000" stroke-width="1.20">m</text></g>
</svg>
</body></html>
